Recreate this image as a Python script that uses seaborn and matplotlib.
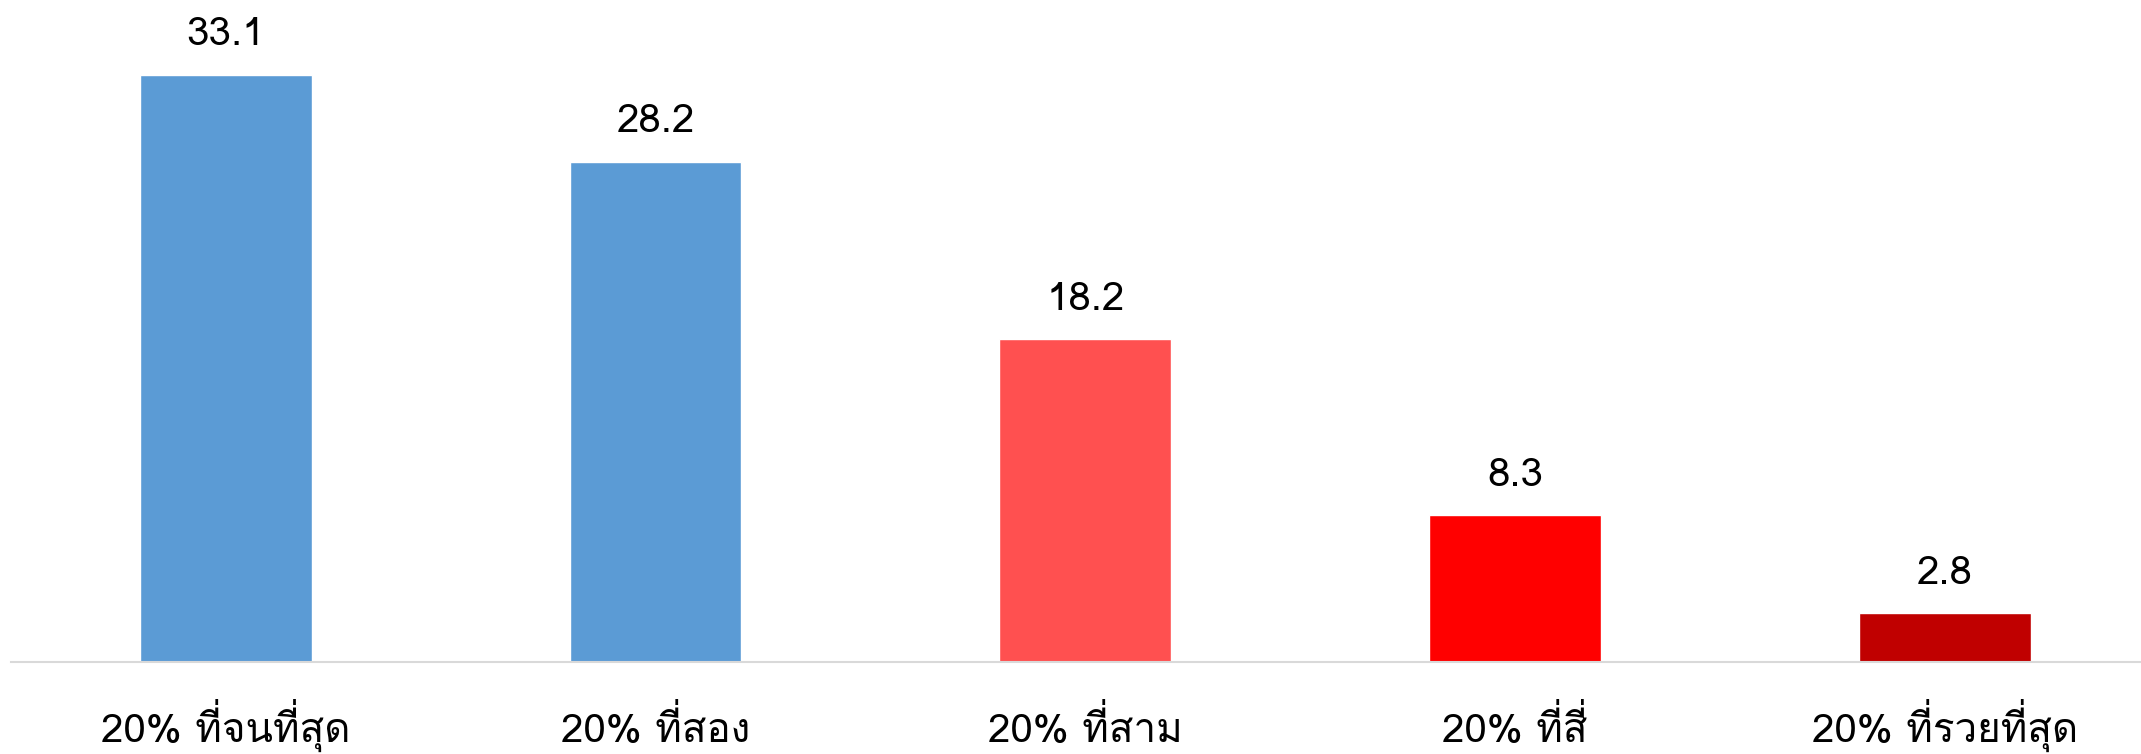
import matplotlib
matplotlib.use("Agg")
import matplotlib.pyplot as plt
import seaborn as sns
import pandas as pd

# กลุ่มรายได้ (quintiles) and their shares
groups = ["20% ที่จนที่สุด", "20% ที่สอง", "20% ที่สาม", "20% ที่สี่", "20% ที่รวยที่สุด"]
values = [33.1, 28.2, 18.2, 8.3, 2.8]
colors = ["#5B9BD5", "#5B9BD5", "#FF5050", "#FF0000", "#C00000"]

sns.set_theme(style="white")
# Loma keeps the tone marks above the upper vowels without shaping
plt.rcParams["font.family"] = ["Loma", "DejaVu Sans"]

df = pd.DataFrame({"group": groups, "value": values})

fig = plt.figure(figsize=(21.41, 7.54), dpi=100)
ax = fig.add_axes([0.0051, 0.1214, 0.9949, 0.8786])
sns.barplot(data=df, x="group", y="value", hue="group", palette=colors,
            width=0.4, saturation=1, legend=False, ax=ax)

for i, v in enumerate(values):
    ax.annotate(f"{v:.1f}", xy=(i, v), xytext=(0, 21), textcoords="offset points",
                ha="center", va="baseline", fontsize=29, color="black")

ax.set_xlim(-0.5, 4.457)
ax.set_ylim(0, 37.3)
ax.set_xlabel("")
ax.set_ylabel("")
ax.set_yticks([])
ax.tick_params(axis="x", length=0, pad=57, labelsize=29, colors="black")
for lab in ax.get_xticklabels():
    lab.set_va("baseline")
for s in ["top", "left", "right"]:
    ax.spines[s].set_visible(False)
ax.spines["bottom"].set_color("#D9D9D9")
ax.spines["bottom"].set_linewidth(1.5)

fig.savefig("out.png", dpi=100)
